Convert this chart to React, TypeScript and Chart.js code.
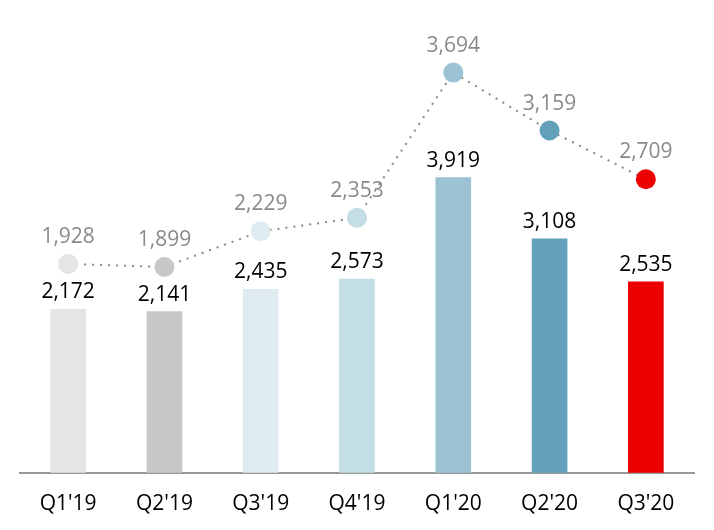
import React, { useEffect, useRef } from "react";
import { Chart, registerables } from "chart.js";

Chart.register(...registerables);

const categories = ["Q1'19", "Q2'19", "Q3'19", "Q4'19", "Q1'20", "Q2'20", "Q3'20"];
const barValues = [2172, 2141, 2435, 2573, 3919, 3108, 2535];
const lineValues = [1928, 1899, 2229, 2353, 3694, 3159, 2709];
const colors = ["#e5e5e5", "#c8c8c8", "#deebf0", "#c4dee6", "#9bc3d3", "#63a0ba", "#ec0000"];

const FONT = "'Open Sans', 'Noto Sans', sans-serif";

const labelPlugin = {
  id: "valueLabels",
  afterDatasetsDraw(chart: any) {
    const ctx = chart.ctx;
    ctx.save();
    ctx.font = `21px ${FONT}`;
    ctx.textAlign = "center";
    ctx.textBaseline = "alphabetic";
    chart.data.datasets.forEach((ds: any, di: number) => {
      const meta = chart.getDatasetMeta(di);
      meta.data.forEach((el: any, i: number) => {
        const v = ds.data[i] as number;
        const txt = v.toLocaleString("en-US");
        if (ds.type === "bar") {
          ctx.fillStyle = "#000000";
          ctx.fillText(txt, el.x, el.y - 11);
        } else {
          ctx.fillStyle = "#8a8a8a";
          ctx.fillText(txt, el.x, el.y - 21);
        }
      });
    });
    ctx.restore();
  },
};

export default function App() {
  const ref = useRef<HTMLCanvasElement | null>(null);
  useEffect(() => {
    if (!ref.current) return;
    const chart = new Chart(ref.current, {
      type: "bar",
      data: {
        labels: categories,
        datasets: [
          {
            type: "line",
            data: lineValues,
            yAxisID: "y2",
            borderColor: "#8a8a8a",
            borderWidth: 2,
            borderDash: [2, 6],
            pointRadius: 10,
            pointHoverRadius: 10,
            pointBackgroundColor: colors,
            pointBorderWidth: 0,
            pointBorderColor: colors,
            fill: false,
            tension: 0,
            order: 0,
          } as any,
          {
            type: "bar",
            data: barValues,
            yAxisID: "y",
            backgroundColor: colors,
            barThickness: 35,
            order: 1,
          } as any,
        ],
      },
      options: {
        responsive: false,
        animation: false,
        layout: { padding: { left: 20, right: 20, top: 21, bottom: -6 } },
        plugins: { legend: { display: false }, tooltip: { enabled: false } },
        scales: {
          x: {
            grid: { display: false, drawTicks: false },
            border: { display: true, color: "#999999", width: 2 },
            ticks: { color: "#000000", font: { family: FONT, size: 21 }, padding: 19 },
          },
          y: { display: false, min: 0, max: 6000 },
          y2: { display: false, min: 0, max: 4170, position: "right" },
        },
      },
      plugins: [labelPlugin],
    });
    return () => chart.destroy();
  }, []);
  return (
    <div style={{ position: "absolute", left: 0, top: 0, width: 714, height: 530, overflow: "hidden", background: "#fff" }}>
      <canvas ref={ref} width={714} height={530} />
    </div>
  );
}
